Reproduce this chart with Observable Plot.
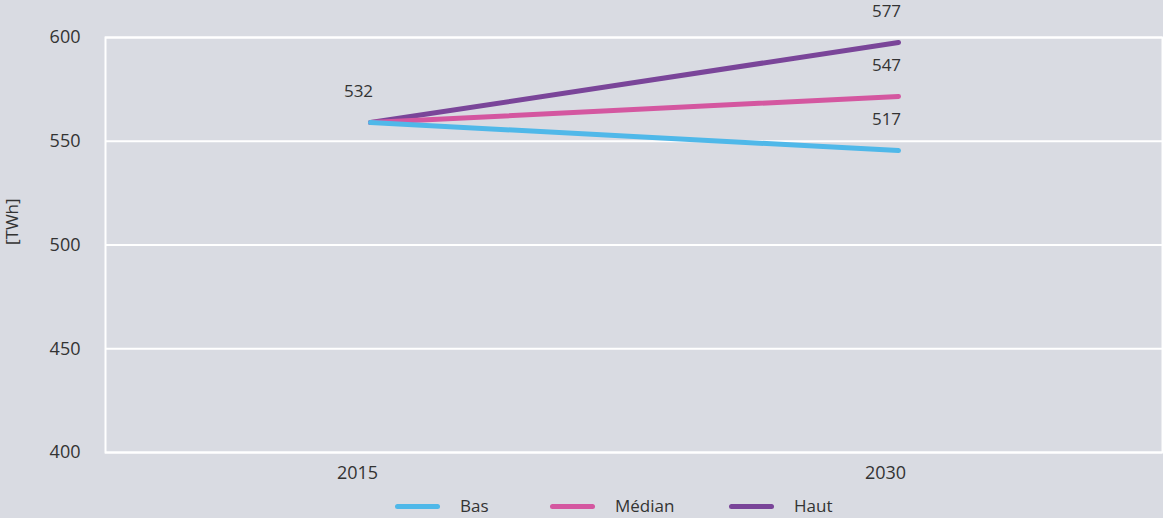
<!DOCTYPE html>
<html>
<head>
<meta charset="utf-8">
<script src="https://cdn.jsdelivr.net/npm/d3@7"></script>
<script src="https://cdn.jsdelivr.net/npm/@observablehq/plot@0.6"></script>
<style>
  html, body { margin: 0; padding: 0; background: #d9dbe2; }
  body { width: 1163px; height: 518px; overflow: hidden; font-family: "Open Sans", sans-serif; color: #333; }
  #legend { position: relative; height: 28px; font-size: 17px; }
  .item { position: absolute; top: 4px; display: flex; align-items: center; height: 24px; line-height: 24px; }
  .sw { width: 45px; height: 5px; border-radius: 3px; margin-right: 20px; }
</style>
</head>
<body>
<div id="chart"></div>
<div id="legend"></div>
<script>
const years = ["2015", "2030"];
const seriesNames = ["Bas", "Médian", "Haut"];
const seriesColors = ["#4fb8e9", "#d457a0", "#7a4599"];
const bas = [559, 545.5];
const median = [559, 571.6];
const haut = [559, 597.6];
const yTicks = [400, 450, 500, 550, 600];
const labelYears = ["2015", "2030", "2030", "2030"];
const labelPos = [559, 597.6, 571.6, 545.5];
const labelTexts = ["532", "577", "547", "517"];
const legendLeft = [395, 550, 729];

const rows = [];
[bas, median, haut].forEach((vals, i) => {
  vals.forEach((v, j) => rows.push({series: seriesNames[i], year: years[j], value: v}));
});
const labels = labelTexts.map((t, i) => ({year: labelYears[i], value: labelPos[i], text: t}));

const order = ["Haut", "Médian", "Bas"];
const chart = Plot.plot({
  width: 1163,
  height: 490,
  marginLeft: 105,
  marginRight: 1,
  marginTop: 37,
  marginBottom: 38,
  style: {background: "#d9dbe2", fontFamily: "Open Sans, sans-serif", fontSize: "18px", color: "#333"},
  x: {type: "point", domain: years, padding: 0.5, label: null, tickSize: 0, tickPadding: 14},
  y: {domain: [400, 600], ticks: yTicks, label: null, tickSize: 0, tickPadding: 25},
  color: {domain: seriesNames, range: seriesColors},
  marks: [
    Plot.gridY(yTicks, {stroke: "white", strokeOpacity: 1, strokeWidth: 2}),
    Plot.frame({stroke: "white", strokeWidth: 2}),
    Plot.axisY({ticks: yTicks, tickSize: 0, tickPadding: 25, label: null, fill: "#333"}),
    Plot.axisX({tickSize: 0, tickPadding: 14, dx: -13, label: null, fill: "#333"}),
    Plot.text(["[TWh]"], {frameAnchor: "left", dx: -93, rotate: -90, fontSize: 17, fill: "#333"}),
    ...order.map(s => Plot.line(rows.filter(d => d.series === s), {
      x: "year", y: "value", stroke: "series", strokeWidth: 5, strokeLinecap: "round"
    })),
    Plot.text(labels, {x: "year", y: "value", text: "text", dx: -12, dy: -31, fill: "#333", fontSize: 17})
  ]
});
document.getElementById("chart").appendChild(chart);

const legend = document.getElementById("legend");
seriesNames.forEach((s, i) => {
  const it = document.createElement("div");
  it.className = "item";
  it.style.left = legendLeft[i] + "px";
  it.innerHTML = `<span class="sw" style="background:${seriesColors[i]}"></span><span>${s}</span>`;
  legend.appendChild(it);
});
</script>
</body>
</html>
